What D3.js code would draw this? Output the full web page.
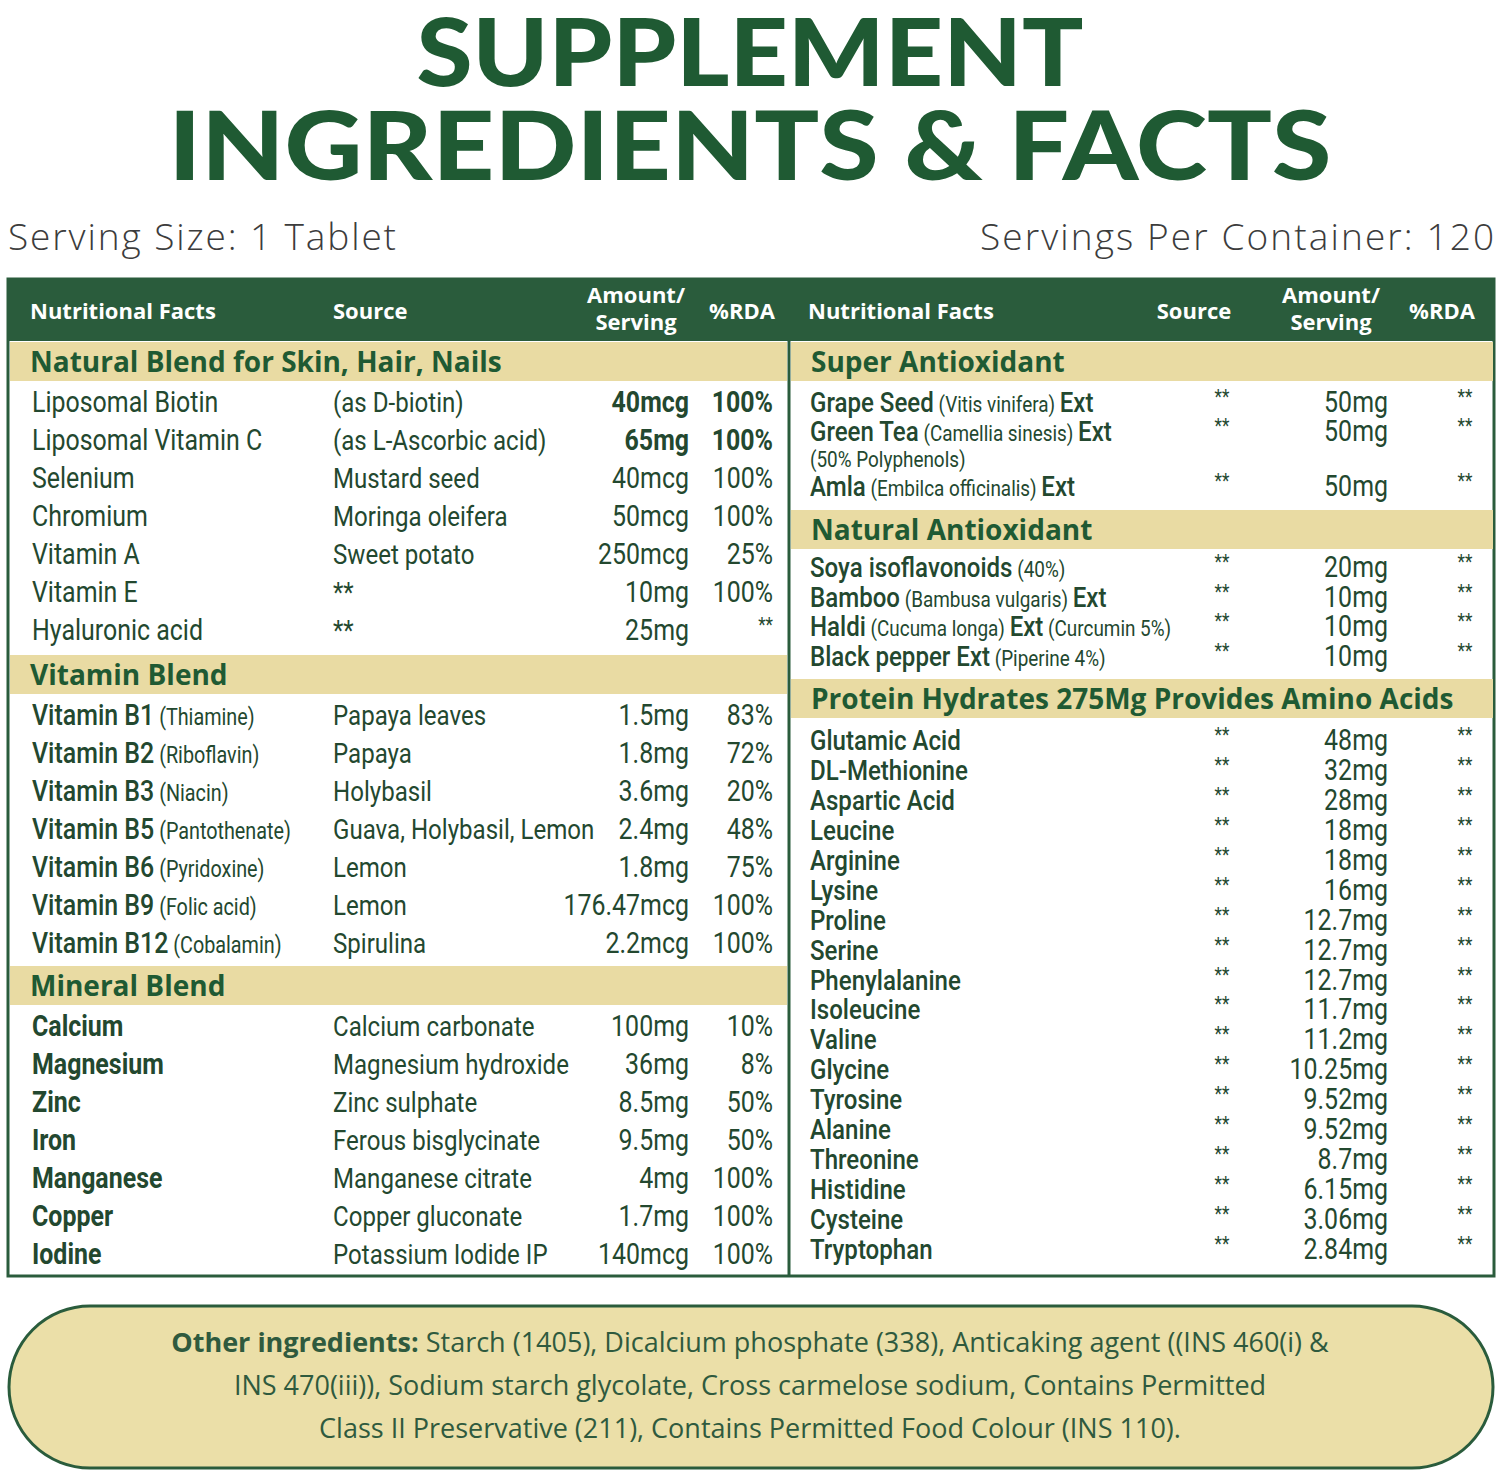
<!DOCTYPE html>
<html><head><meta charset="utf-8">
<script src="https://cdn.jsdelivr.net/npm/d3@7"></script>
<style>body{margin:0;background:#fff}</style></head>
<body><script>
const GREEN="#2a5c3c", BAND="#e9dba3", TXT="#23482f", TITLE="#1f5a33";
const NARROW="Roboto,sans-serif";
const headersL=["Nutritional Facts","Source","Amount/|Serving","%RDA"];
const headersR=["Nutritional Facts","Source","Amount/|Serving","%RDA"];
// [name, sub, source, amount, rda, nameBold, amtBold]
const blendSkin=[["Liposomal Biotin","","(as D-biotin)","40mcg","100%",0,1],["Liposomal Vitamin C","","(as L-Ascorbic acid)","65mg","100%",0,1],["Selenium","","Mustard seed","40mcg","100%",0,0],["Chromium","","Moringa oleifera","50mcg","100%",0,0],["Vitamin A","","Sweet potato","250mcg","25%",0,0],["Vitamin E","","**","10mg","100%",0,0],["Hyaluronic acid","","**","25mg","**",0,0]];
const blendVit=[["Vitamin B1","(Thiamine)","Papaya leaves","1.5mg","83%"],["Vitamin B2","(Riboflavin)","Papaya","1.8mg","72%"],["Vitamin B3","(Niacin)","Holybasil","3.6mg","20%"],["Vitamin B5","(Pantothenate)","Guava, Holybasil, Lemon","2.4mg","48%"],["Vitamin B6","(Pyridoxine)","Lemon","1.8mg","75%"],["Vitamin B9","(Folic acid)","Lemon","176.47mcg","100%"],["Vitamin B12","(Cobalamin)","Spirulina","2.2mcg","100%"]];
const blendMin=[["Calcium","","Calcium carbonate","100mg","10%",1],["Magnesium","","Magnesium hydroxide","36mg","8%",1],["Zinc","","Zinc sulphate","8.5mg","50%",1],["Iron","","Ferous bisglycinate","9.5mg","50%",1],["Manganese","","Manganese citrate","4mg","100%",1],["Copper","","Copper gluconate","1.7mg","100%",1],["Iodine","","Potassium Iodide IP","140mcg","100%",1]];
const superAnti=[[["Grape Seed",1],[" (Vitis vinifera) ",0],["Ext",1]],"50mg"],
 superAnti2=[[["Green Tea",1],[" (Camellia sinesis) ",0],["Ext",1]],"50mg"],
 superAnti3=[[["Amla",1],[" (Embilca officinalis) ",0],["Ext",1]],"50mg"];
const natAnti=[[[["Soya isoflavonoids",1],[" (40%)",0]],"20mg"],[[["Bamboo",1],[" (Bambusa vulgaris) ",0],["Ext",1]],"10mg"],[[["Haldi",1],[" (Cucuma longa) ",0],["Ext",1],[" (Curcumin 5%)",0]],"10mg"],[[["Black pepper Ext",1],[" (Piperine 4%)",0]],"10mg"]];
const aminoNames=["Glutamic Acid","DL-Methionine","Aspartic Acid","Leucine","Arginine","Lysine","Proline","Serine","Phenylalanine","Isoleucine","Valine","Glycine","Tyrosine","Alanine","Threonine","Histidine","Cysteine","Tryptophan"];
const aminoAmts=["48mg","32mg","28mg","18mg","18mg","16mg","12.7mg","12.7mg","12.7mg","11.7mg","11.2mg","10.25mg","9.52mg","9.52mg","8.7mg","6.15mg","3.06mg","2.84mg"];
const otherLines=[["Other ingredients:"," Starch (1405), Dicalcium phosphate (338), Anticaking agent ((INS 460(i) &"],["","INS 470(iii)), Sodium starch glycolate, Cross carmelose sodium, Contains Permitted"],["","Class II Preservative (211), Contains Permitted Food Colour (INS 110)."]];

const svg=d3.select("body").append("svg").attr("width",1500).attr("height",1475);
const T=(x,y,s,o={})=>{const t=svg.append("text").text(s)
  .attr("font-family",o.f||NARROW).attr("font-size",o.size||27).attr("font-weight",o.w||400)
  .attr("fill",o.c||TXT).attr("text-anchor",o.a||"start");
  if(o.f) t.attr("x",x).attr("y",y); else t.attr("transform",`translate(${x},${y}) scale(0.86,1)`);
  return t;};
// Title
T(750,86,"SUPPLEMENT",{f:"Lato,Inter,sans-serif",size:94,w:900,c:TITLE,a:"middle"}).attr("textLength",667).attr("lengthAdjust","spacingAndGlyphs");
T(750,180,"INGREDIENTS & FACTS",{f:"Lato,Inter,sans-serif",size:96,w:900,c:TITLE,a:"middle"}).attr("textLength",1163).attr("lengthAdjust","spacingAndGlyphs");
T(8,250,"Serving Size: 1 Tablet",{f:"'Open Sans',sans-serif",size:37,c:"#3c3c3c"}).attr("font-weight",300).attr("textLength",388);
T(1494,250,"Servings Per Container: 120",{f:"'Open Sans',sans-serif",size:37,c:"#3c3c3c",a:"end"}).attr("font-weight",300).attr("textLength",514);
// frames
svg.append("rect").attr("x",8).attr("y",279).attr("width",1486).attr("height",997).attr("fill","#fff").attr("stroke",GREEN).attr("stroke-width",3);
svg.append("rect").attr("x",8).attr("y",279).attr("width",1486).attr("height",62).attr("fill",GREEN);
svg.append("line").attr("x1",789).attr("x2",789).attr("y1",279).attr("y2",1276).attr("stroke",GREEN).attr("stroke-width",3);
const HF="'Open Sans',sans-serif";
function header(cols){cols.forEach(([x,s,a])=>{const p=s.split("|");
  if(p.length>1){T(x,303,p[0],{f:HF,size:22,w:700,c:"#fff",a});T(x,330,p[1],{f:HF,size:22,w:700,c:"#fff",a});}
  else T(x,319,s,{f:HF,size:22,w:700,c:"#fff",a});});}
header([[30,headersL[0],"start"],[333,headersL[1],"start"],[636,headersL[2],"middle"],[742,headersL[3],"middle"]]);
header([[808,headersR[0],"start"],[1194,headersR[1],"middle"],[1331,headersR[2],"middle"],[1442,headersR[3],"middle"]]);
function band(x,w,y,h,s){svg.append("rect").attr("x",x).attr("y",y).attr("width",w).attr("height",h).attr("fill",BAND);
  T(x+20,y+h/2+10,s,{f:HF,size:28,w:700,c:TITLE});}
band(10,777,342,39,"Natural Blend for Skin, Hair, Nails");
band(10,777,655,39,"Vitamin Blend");
band(10,777,966,39,"Mineral Blend");
band(791,702,342,39,"Super Antioxidant");
band(791,702,510,39,"Natural Antioxidant");
band(791,702,679,39,"Protein Hydrates 275Mg Provides Amino Acids");
function leftRows(rows,y0){
  const y=d3.scalePoint().domain(d3.range(rows.length)).range([y0,y0+38*(rows.length-1)]);
  rows.forEach((r,i)=>{const yy=y(i);
    const t=T(32,yy,"",{size:29});
    t.append("tspan").text(r[0]).attr("font-weight",r[5]?700:(r[1]?500:400));
    if(r[1]) t.append("tspan").text(" "+r[1]).attr("font-size",23);
    T(333,yy,r[2],{size:28});
    T(689,yy,r[3],{size:29,w:r[6]?700:400,a:"end"});
    if(r[4]=="**") T(773,yy-8,r[4],{size:20,a:"end"});
    else T(773,yy,r[4],{size:29,w:r[6]?700:400,a:"end"});
  });}
leftRows(blendSkin,412);leftRows(blendVit,725);leftRows(blendMin,1036);
function rightRow(parts,amt,yy){
  const t=T(810,yy,"",{size:28});
  parts.forEach(([s,b])=>t.append("tspan").text(s).attr("font-weight",b?500:400).attr("font-size",b?28:22));
  T(1222,yy-8,"**",{size:20,a:"middle"});
  T(1388,yy,amt,{size:29,a:"end"});
  T(1465,yy-8,"**",{size:20,a:"middle"});}
rightRow(superAnti[0],superAnti[1],412);
rightRow(superAnti2[0],superAnti2[1],441);
T(810,467,"(50% Polyphenols)",{size:22});
rightRow(superAnti3[0],superAnti3[1],496);
const yN=d3.scalePoint().domain(d3.range(natAnti.length)).range([577,666]);
natAnti.forEach((r,i)=>rightRow(r[0],r[1],yN(i)));
const yA=d3.scalePoint().domain(aminoNames).range([750,1259]);
aminoNames.forEach((n,i)=>rightRow([[n,1]],aminoAmts[i],yA(n)));
// Other ingredients
svg.append("rect").attr("x",9).attr("y",1306).attr("width",1484).attr("height",162).attr("rx",81)
  .attr("fill","#ebdfa8").attr("stroke",GREEN).attr("stroke-width",3);
otherLines.forEach((l,i)=>{const t=T(750,1352+i*43,"",{f:HF,size:27,c:"#2f5a3e",a:"middle"});
  if(l[0]) t.append("tspan").text(l[0]).attr("font-weight",700);
  t.append("tspan").text(l[1]);});
</script></body></html>
